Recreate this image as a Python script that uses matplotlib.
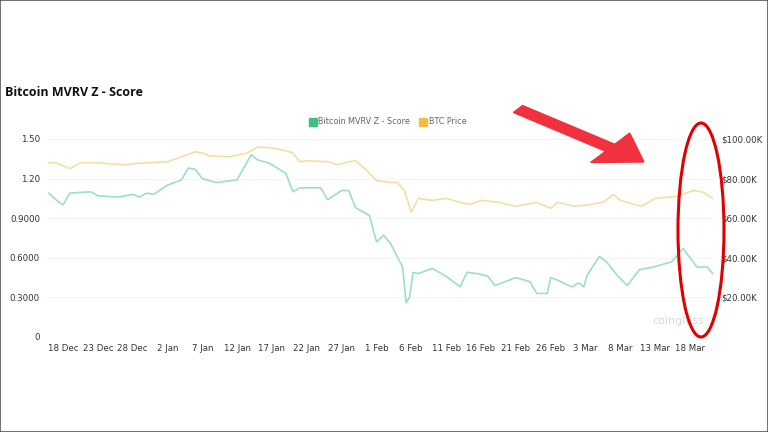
import matplotlib.pyplot as plt
import pandas as pd
from matplotlib.patches import Ellipse, FancyArrow, Rectangle
from matplotlib.lines import Line2D

# MVRV Z-Score series
mvrv_dates = [
    '2024-12-16', '2024-12-17', '2024-12-18', '2024-12-19', '2024-12-22', '2024-12-23',
    '2024-12-26', '2024-12-28', '2024-12-29', '2024-12-30', '2024-12-31', '2025-01-02',
    '2025-01-04', '2025-01-05', '2025-01-06', '2025-01-07', '2025-01-09', '2025-01-12',
    '2025-01-14', '2025-01-15', '2025-01-16 12:00', '2025-01-19', '2025-01-20', '2025-01-21',
    '2025-01-24', '2025-01-25', '2025-01-27', '2025-01-28', '2025-01-29', '2025-01-31',
    '2025-02-01', '2025-02-02', '2025-02-03', '2025-02-04 18:00', '2025-02-05 06:00',
    '2025-02-05 18:00', '2025-02-06 06:00', '2025-02-07', '2025-02-09', '2025-02-11',
    '2025-02-13', '2025-02-14', '2025-02-15 12:00', '2025-02-17', '2025-02-18', '2025-02-21',
    '2025-02-23', '2025-02-24', '2025-02-25 12:00', '2025-02-26', '2025-02-27', '2025-03-01',
    '2025-03-02', '2025-03-02 18:00', '2025-03-03 06:00', '2025-03-04', '2025-03-05',
    '2025-03-06', '2025-03-07 12:00', '2025-03-09', '2025-03-10 18:00', '2025-03-12 18:00',
    '2025-03-15 09:00', '2025-03-17', '2025-03-18', '2025-03-19', '2025-03-20', '2025-03-20 12:00',
    '2025-03-21 06:00',
]
mvrv_values = [
    1.09, 1.04, 1.00, 1.09, 1.10, 1.07,
    1.06, 1.08, 1.06, 1.09, 1.08, 1.15,
    1.19, 1.28, 1.27, 1.20, 1.17, 1.19,
    1.38, 1.34, 1.32, 1.24, 1.10, 1.13,
    1.13, 1.04, 1.11, 1.11, 0.98, 0.92,
    0.72, 0.77, 0.71, 0.53, 0.26,
    0.30, 0.49, 0.48, 0.52, 0.46,
    0.38, 0.49, 0.48, 0.46, 0.39, 0.45,
    0.42, 0.33, 0.33, 0.45, 0.43, 0.38,
    0.41, 0.38, 0.47, 0.53, 0.61,
    0.57, 0.47, 0.39, 0.51, 0.53,
    0.57, 0.67, 0.60, 0.53, 0.53, 0.53,
    0.48,
]

# BTC price series in thousands of USD
price_dates = [
    '2024-12-16', '2024-12-17', '2024-12-19', '2024-12-20 12:00', '2024-12-23', '2024-12-26 12:00',
    '2024-12-30', '2025-01-02', '2025-01-04', '2025-01-06', '2025-01-07', '2025-01-08',
    '2025-01-11', '2025-01-13 12:00', '2025-01-15', '2025-01-17', '2025-01-19', '2025-01-20',
    '2025-01-21', '2025-01-22', '2025-01-25', '2025-01-26 12:00', '2025-01-28', '2025-01-29',
    '2025-01-30 12:00', '2025-02-01', '2025-02-03', '2025-02-04', '2025-02-05', '2025-02-06',
    '2025-02-07', '2025-02-09', '2025-02-11', '2025-02-13', '2025-02-14 12:00', '2025-02-16',
    '2025-02-18 12:00', '2025-02-21', '2025-02-24', '2025-02-26', '2025-02-27', '2025-03-01 12:00',
    '2025-03-04', '2025-03-05 12:00', '2025-03-07', '2025-03-08', '2025-03-11', '2025-03-13',
    '2025-03-16', '2025-03-18 12:00', '2025-03-20', '2025-03-21 06:00',
]
price_values = [
    88, 88, 85, 88, 88, 87,
    88, 88.5, 91, 93.5, 93, 91.5,
    91, 93, 96, 95.5, 94, 93,
    88.5, 89, 88.5, 87, 88.5, 89,
    84.5, 79, 78, 78, 74, 63,
    70, 69, 70, 68, 67, 69,
    68, 66, 68, 65, 68, 66,
    67, 68, 72, 69, 66, 70,
    71, 74, 73, 70,
]

left_ticks = [0, 0.3, 0.6, 0.9, 1.2, 1.5]
left_labels = ['0', '0.3000', '0.6000', '0.9000', '1.20', '1.50']
right_ticks = [20, 40, 60, 80, 100]
right_labels = ['$20.00K', '$40.00K', '$60.00K', '$80.00K', '$100.00K']

mvrv = pd.Series(mvrv_values, index=pd.to_datetime(mvrv_dates, format='mixed'))
price = pd.Series(price_values, index=pd.to_datetime(price_dates, format='mixed'))

W, H = 768, 432
fig = plt.figure(figsize=(W / 100, H / 100), dpi=100)
fig.patch.set_facecolor('white')

ax = fig.add_axes([45.5 / W, 1 - 337 / H, (714.4 - 45.5) / W, (337 - 139) / H])
ax2 = ax.twinx()

ax.plot(mvrv.index, mvrv.values, color='#9EDDC8', linewidth=1.2,
        solid_joinstyle='round', zorder=3)
ax2.plot(price.index, price.values, color='#F6DDA6', linewidth=1.2,
         solid_joinstyle='round', zorder=3)

ax.set_xlim(pd.Timestamp('2024-12-15 12:00'), pd.Timestamp('2025-03-21 12:00'))
ax.set_ylim(0, 1.5)
ax2.set_ylim(0, 100)

ax.set_yticks(left_ticks)
ax.set_yticklabels(left_labels)
ax2.set_yticks(right_ticks)
ax2.set_yticklabels(right_labels)

ticks = pd.date_range('2024-12-18', '2025-03-18', freq='5D')
ax.set_xticks(ticks)
ax.set_xticklabels([f'{d.day} {d.strftime("%b")}' for d in ticks])

for a in (ax, ax2):
    for s in a.spines.values():
        s.set_visible(False)
    a.tick_params(length=0, labelsize=6.2, colors='#333333')
ax.tick_params(axis='x', pad=5)
ax.tick_params(axis='y', pad=4)
ax2.tick_params(axis='y', pad=5)
ax.grid(axis='y', color='#F2F2F2', linewidth=0.6)
ax.set_axisbelow(True)

fig.text(5 / W, 1 - 92 / H, 'Bitcoin MVRV Z - Score', fontsize=9, fontweight='bold',
         family='Open Sans', color='#111111', va='center')

handles = [
    Line2D([], [], marker='s', linestyle='none', markersize=5.5, color='#3CC183'),
    Line2D([], [], marker='s', linestyle='none', markersize=5.5, color='#F2BD42'),
]
fig.legend(handles, ['Bitcoin MVRV Z - Score', 'BTC Price'], loc='center',
           bbox_to_anchor=(388 / W, 1 - 122 / H), ncol=2, frameon=False,
           fontsize=5.8, labelcolor='#666666', handletextpad=0.3, columnspacing=1.2,
           handlelength=0.8)

fig.text(652 / W, 1 - 321 / H, 'coinglass', fontsize=8, color='#D8D8D8', va='center')

# red annotation: arrow and ellipse
fig.add_artist(FancyArrow(518 / W, 1 - 109 / H, (644 - 518) / W, -(162 - 109) / H,
                          width=0.02, head_width=0.085, head_length=0.055,
                          length_includes_head=True, color='#F2313F', transform=fig.transFigure,
                          zorder=10))
fig.add_artist(Ellipse((701 / W, 1 - 230 / H), 46 / W, 214 / H, fill=False,
                       edgecolor='#E00000', linewidth=2.2, transform=fig.transFigure, zorder=10))

fig.add_artist(Rectangle((0, 0), 1, 1, fill=False, edgecolor='#555555', linewidth=1.2,
                         transform=fig.transFigure))

fig.savefig('out.png', dpi=100)
